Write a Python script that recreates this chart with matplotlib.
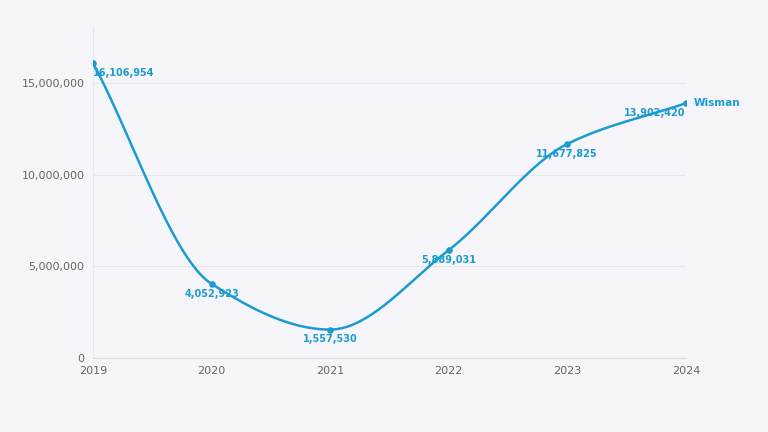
import numpy as np
import matplotlib.pyplot as plt
from matplotlib.ticker import FuncFormatter

years = [2019, 2020, 2021, 2022, 2023, 2024]
values = [16106954, 4052923, 1557530, 5889031, 11677825, 13902420]
series_name = "Wisman"

color = "#1b9bd1"
bg = "#f6f6fa"


def smooth(x, y, n=40):
    # monotone cubic (Fritsch-Carlson) through the points, only for drawing the curve
    x = np.asarray(x, float)
    y = np.asarray(y, float)
    h = np.diff(x)
    d = np.diff(y) / h
    m = np.zeros(len(x))
    m[0], m[-1] = d[0], d[-1]
    for i in range(1, len(x) - 1):
        if d[i - 1] * d[i] > 0:
            m[i] = 3 * (h[i - 1] + h[i]) / ((2 * h[i] + h[i - 1]) / d[i - 1] + (h[i] + 2 * h[i - 1]) / d[i])
    xs, ys = [], []
    for i in range(len(x) - 1):
        t = np.linspace(0, 1, n)
        h00 = 2 * t ** 3 - 3 * t ** 2 + 1
        h10 = t ** 3 - 2 * t ** 2 + t
        h01 = -2 * t ** 3 + 3 * t ** 2
        h11 = t ** 3 - t ** 2
        xs.extend(x[i] + t * h[i])
        ys.extend(h00 * y[i] + h10 * h[i] * m[i] + h01 * y[i + 1] + h11 * h[i] * m[i + 1])
    return xs, ys


fig = plt.figure(figsize=(7.68, 4.32), dpi=100, facecolor=bg)
ax = fig.add_axes([0.121, 0.171, 0.772, 0.764], facecolor=bg)

sx, sy = smooth(years, values)
ax.plot(sx, sy, color=color, lw=1.8, zorder=3)
ax.scatter(years, values, color=color, s=14, zorder=4)

for i, (x, v) in enumerate(zip(years, values)):
    ha, dx = "center", 0
    if i == 0:
        ha = "left"
    elif i == len(years) - 1:
        ha = "right"
    ax.annotate(f"{v:,}", (x, v), xytext=(dx, -7), textcoords="offset points",
                ha=ha, va="center", fontsize=7, fontweight="semibold", color=color, zorder=5)
ax.annotate(series_name, (years[-1], values[-1]), xytext=(6, 0), textcoords="offset points",
            ha="left", va="center", fontsize=7.5, fontweight="bold", color=color)

ax.set_xlim(2019, 2024)
ax.set_ylim(0, 18000000)
ax.set_xticks(years)
ax.set_yticks([0, 5000000, 10000000, 15000000])
ax.yaxis.set_major_formatter(FuncFormatter(lambda v, p: f"{int(v):,}"))
ax.tick_params(length=0, labelsize=8, colors="#666666", pad=6)
ax.grid(axis="y", color="#e6e6ee", lw=0.8)
for s in ["top", "right", "left"]:
    ax.spines[s].set_visible(False)
ax.spines["bottom"].set_color("#dddddd")
ax.axvline(2019, color="#e6e6ee", lw=0.8, zorder=0)

fig.savefig("out.png", dpi=100, facecolor=bg)
